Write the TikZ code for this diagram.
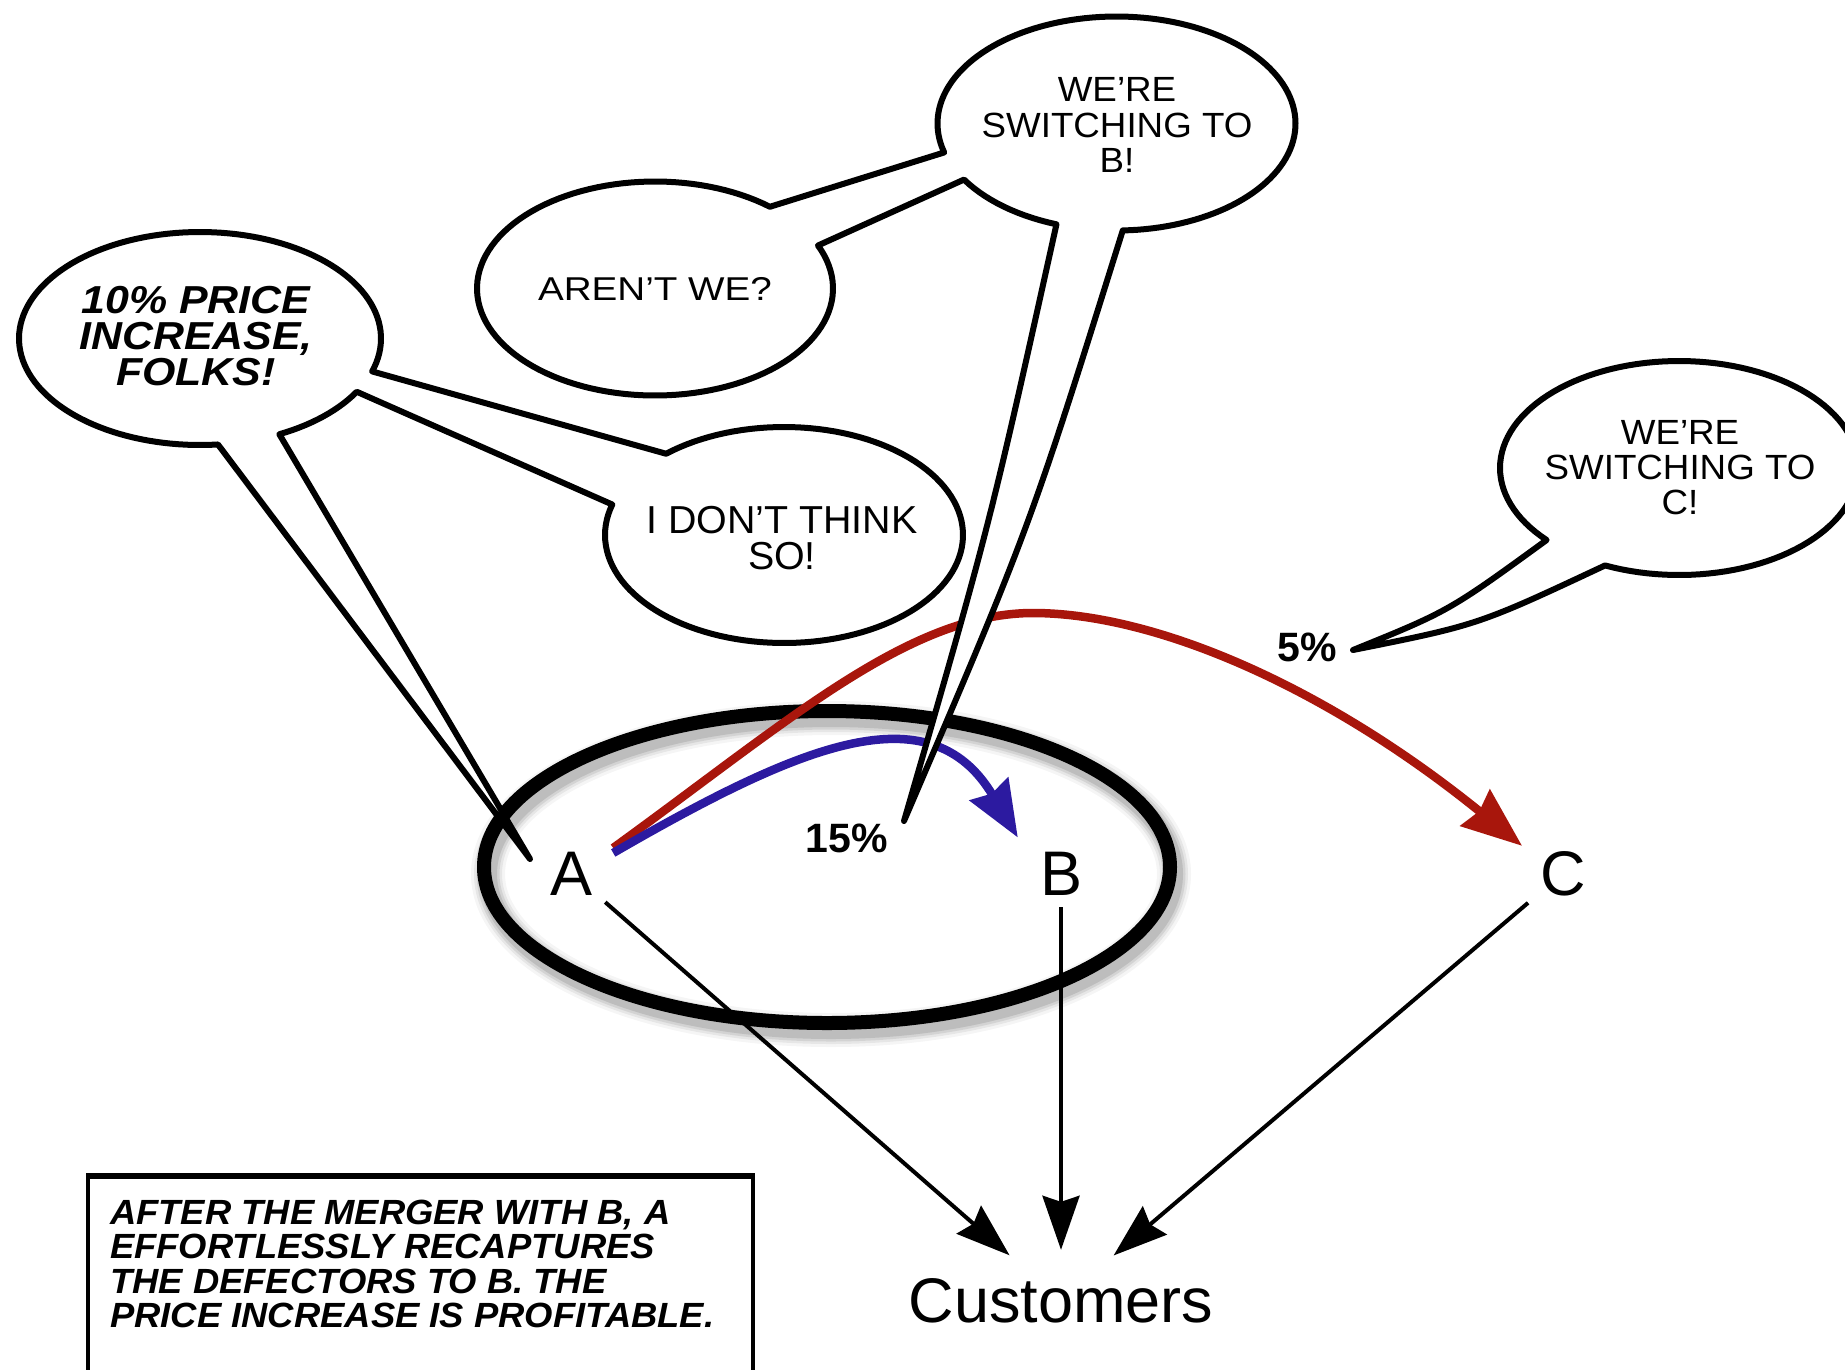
\documentclass[tikz,border=0pt]{standalone}
\usepackage{fontspec}
\usetikzlibrary{arrows.meta,shapes.geometric}

\newfontfamily\helv{Liberation Sans}
\newfontfamily\shoutfont[FakeStretch=1.1]{Liberation Sans}
\newfontfamily\talkfont[FakeStretch=1.05]{Liberation Sans}
\newfontfamily\widetalk[FakeStretch=1.17]{Liberation Sans}
\newfontfamily\plaintalk[FakeStretch=1.01]{Liberation Sans}
\newfontfamily\captionfont[FakeStretch=1.04]{Liberation Sans}

\definecolor{swred}{RGB}{168,22,12}
\definecolor{swblue}{RGB}{44,26,160}

\begin{document}
\begin{tikzpicture}[x=1pt,y=-1pt,
  bubble/.style={draw=black, fill=white, line width=6pt, line join=round},
  firm/.style={font={\helv\fontsize{63}{63}\selectfont}, inner sep=12pt, anchor=base},
  pct/.style={font={\helv\bfseries\fontsize{41}{41}\selectfont}, inner sep=0pt, anchor=base},
  feed/.style={line width=4pt, shorten >=16pt,
    -{Stealth[length=54pt,width=37pt,inset=6pt]}},
  flow/.style={line width=8.5pt},
  ringstyle/.style={draw, ellipse, line width=14pt, minimum width=686pt,
    minimum height=312pt, inner sep=0pt},
  say/.style={align=center, inner sep=0pt}]

\useasboundingbox (0,0) rectangle (1845,1369);
\clip (0,0) rectangle (1845,1369);
\fill[white] (0,0) rectangle (1845,1369);

% soft shadow under the merged-firm ring, then the ring itself
\foreach \w/\o in {34/0.04,28/0.06,23/0.08,18/0.1}
  \draw[line width=\w pt, black, opacity=\o] (831,874) ellipse [x radius=343pt, y radius=156pt];
\node[ringstyle] (ring) at (827,867) {};

% firms and customers
\node[firm] (A) at (572,895) {A};
\node[firm] (B) at (1061,895) {B};
\node[firm] (C) at (1563,895) {C};
\node[firm] (cust) at (1061,1322) {Customers};

\draw[feed] (A) -- (cust);
\draw[feed] (B) -- (cust);
\draw[feed] (C) -- (cust);

% defections
\draw[flow, swred, -{Stealth[length=60pt,width=46pt,inset=5pt]}]
  ([shift={(8,8.5)}]A.north east) .. controls (790,720) and (910,612) .. (1035,613)
  .. controls (1160,614) and (1330,690) .. ([shift={(-6,7)}]C.north west);
\draw[flow, swblue, -{Stealth[length=56pt,width=44pt,inset=5pt]}]
  ([shift={(8,13.5)}]A.north east) .. controls (800,745) and (930,690) .. ([shift={(-10,-2)}]B.north west);

\node[pct] (p15) at (847,852) {15\%};
\node[pct] (p5) at (1307,661) {5\%};

\coordinate (tipA) at (530,859);
\coordinate (tip15) at (904,821);
\coordinate (tip5) at (1353,650);

% speech bubbles: price increase linked to the reply
\draw[bubble]
  plot[domain=30:64, samples=15] ({200+181*cos(\x)},{338.5+106.5*sin(\x)})
  -- (tipA)
  -- plot[domain=84.3:378, samples=120] ({200+181*cos(\x)},{338.5+106.5*sin(\x)})
  -- plot[domain=228.8:556.4, samples=120] ({784+179*cos(\x)},{535+108*sin(\x)})
  -- cycle;

% question linked to the switch to B
\draw[bubble]
  plot[domain=336.3:670.2, samples=120] ({655+178*cos(\x)},{288.5+107*sin(\x)})
  -- plot[domain=164.3:448, samples=120] ({1116.5+179*cos(\x)},{123.5+107*sin(\x)})
  .. controls (1030,527) .. (tip15)
  .. controls (990,524) .. ({1116.5+179*cos(109.6)},{123.5+107*sin(109.6)})
  -- plot[domain=109.6:148.4, samples=15] ({1116.5+179*cos(\x)},{123.5+107*sin(\x)})
  -- cycle;

% switch to C
\draw[bubble]
  plot[domain=137.7:474.4, samples=120] ({1679+179*cos(\x)},{468+107*sin(\x)})
  .. controls (1478,625) .. (tip5)
  .. controls (1449,611) .. ({1679+179*cos(137.7)},{468+107*sin(137.7)})
  -- cycle;

\node[say, font={\shoutfont\bfseries\itshape\fontsize{39}{36}\selectfont}] (s1) at (196,336)
  {10\% PRICE\\INCREASE,\\FOLKS!};
\node[say, font={\plaintalk\fontsize{39}{36}\selectfont}] (s2) at (782,538)
  {I DON’T THINK\\SO!};
\node[say, font={\widetalk\fontsize{33}{35}\selectfont}] (s3) at (655,289)
  {AREN’T WE?};
\node[say, font={\talkfont\fontsize{35}{35.5}\selectfont}] (s4) at (1117,125)
  {WE’RE\\SWITCHING TO\\B!};
\node[say, font={\talkfont\fontsize{35}{35}\selectfont}] (s5) at (1680,468)
  {WE’RE\\SWITCHING TO\\C!};

% caption box
\draw[line width=4pt] (88,1176) rectangle (753,1390);
\draw[line width=6pt] (86,1176) -- (755,1176);
\node[align=left, inner sep=0pt, anchor=west,
  font={\captionfont\bfseries\itshape\fontsize{35}{34.5}\selectfont}] (cap) at (110,1264)
  {AFTER THE MERGER WITH B, A\\EFFORTLESSLY RECAPTURES\\THE DEFECTORS TO B. THE\\PRICE INCREASE IS PROFITABLE.};

\end{tikzpicture}
\end{document}
